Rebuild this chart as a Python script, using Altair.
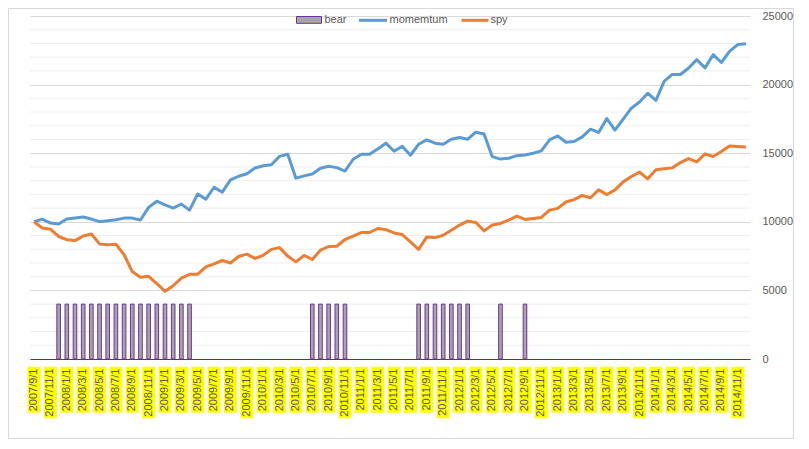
import altair as alt
import pandas as pd

# ---- categories (monthly, 2007/9/1 .. 2014/12/1) ----
months = []
_y, _m = 2007, 9
for _ in range(88):
    months.append(f"{_y}/{_m}/1")
    _m += 1
    if _m > 12:
        _m = 1
        _y += 1

tick_labels = months[::2]

momentum = [
    10000, 10190, 9910, 9840, 10200, 10270, 10350, 10200, 10010, 10080,
    10150, 10270, 10270, 10130, 11050, 11500, 11240, 11000, 11290, 10850,
    12030, 11650, 12520, 12160, 13050, 13320, 13500, 13920, 14080, 14160,
    14770, 14920, 13180, 13350, 13490, 13900, 14050, 13950, 13700, 14560,
    14920, 14920, 15310, 15730, 15140, 15500, 14850, 15650, 15970, 15730,
    15650, 16020, 16150, 16020, 16530, 16400, 14750, 14570, 14630, 14820,
    14870, 15000, 15170, 15970, 16260, 15800, 15850, 16190, 16750, 16510,
    17520, 16680, 17480, 18280, 18730, 19370, 18850, 20240, 20740, 20740,
    21210, 21820, 21220, 22180, 21610, 22420, 22920, 22980,
]

spy = [
    10000, 9550, 9460, 8930, 8700, 8630, 8970, 9110, 8390, 8320,
    8370, 7600, 6370, 5960, 6030, 5500, 4930, 5340, 5900, 6170,
    6180, 6710, 6940, 7180, 7000, 7470, 7640, 7330, 7560, 7990,
    8120, 7500, 7080, 7550, 7250, 7930, 8200, 8220, 8710, 8950,
    9220, 9220, 9510, 9430, 9190, 9070, 8540, 7990, 8900, 8850,
    9020, 9390, 9760, 10050, 9950, 9340, 9760, 9880, 10120, 10410,
    10170, 10240, 10320, 10850, 10980, 11440, 11620, 11920, 11750, 12330,
    11990, 12330, 12910, 13300, 13620, 13130, 13790, 13860, 13930, 14320,
    14610, 14370, 14950, 14760, 15120, 15530, 15490, 15460,
]

bear_months = [
    "2007/12/1", "2008/1/1", "2008/2/1", "2008/3/1", "2008/4/1", "2008/5/1",
    "2008/6/1", "2008/7/1", "2008/8/1", "2008/9/1", "2008/10/1", "2008/11/1",
    "2008/12/1", "2009/1/1", "2009/2/1", "2009/3/1", "2009/4/1",
    "2010/7/1", "2010/8/1", "2010/9/1", "2010/10/1", "2010/11/1",
    "2011/8/1", "2011/9/1", "2011/10/1", "2011/11/1", "2011/12/1", "2012/1/1", "2012/2/1",
    "2012/6/1", "2012/9/1",
]
bear_value = 4000

y_major = [0, 5000, 10000, 15000, 20000, 25000]
y_minor = [v for v in range(1000, 25000, 1000) if v % 5000 != 0]

series_names = ["bear", "momemtum", "spy"]

# ---- styles ----
FONT = "Liberation Sans"
TXT = "#595959"
BLUE = "#5B9BD5"
ORANGE = "#ED7D31"
BAR_FILL = "#A6A6A6"
BAR_STROKE = "#7030A0"

lines_df = pd.DataFrame({
    "month": months * 2,
    "value": momentum + spy,
    "series": ["momemtum"] * len(months) + ["spy"] * len(months),
    "order": list(range(len(months))) * 2,
})
bear_df = pd.DataFrame({"month": bear_months, "bear": [bear_value] * len(bear_months)})
labels_df = pd.DataFrame({"month": tick_labels})
minor_df = pd.DataFrame({"v": y_minor})
frame_df = pd.DataFrame({"k": [0]})

X = alt.X(
    "month:O",
    sort=months,
    scale=alt.Scale(domain=months, paddingInner=0, paddingOuter=0),
    axis=alt.Axis(
        values=tick_labels, title=None, ticks=False, domainColor="#E00000", domainWidth=1.2,
        labelAngle=270, labelAlign="right", labelBaseline="middle", labelPadding=9,
        labelFont=FONT, labelFontSize=11, labelColor=TXT, zindex=1, grid=False,
        labelOverlap=False,
    ),
)
YSCALE = alt.Scale(domain=[0, 25000], nice=False, zero=True)
YAXIS = alt.Axis(
    orient="right", values=y_major, title=None, ticks=False, domain=False, format="d",
    grid=True, gridColor="#D9D9D9", gridWidth=1, labelPadding=12,
    labelFont=FONT, labelFontSize=11, labelColor=TXT,
)

frame = alt.Chart(frame_df).mark_rect(fillOpacity=0, stroke="#D9D9D9", strokeWidth=1).encode(
    x=alt.value(-21.5), x2=alt.value(763.5), y=alt.value(-7.5), y2=alt.value(422.5)
)

minor = alt.Chart(minor_df).mark_rule(color="#EEEEEE", strokeWidth=1).encode(
    y=alt.Y("v:Q", scale=YSCALE, axis=YAXIS)
)

box8 = alt.Chart(labels_df).transform_filter("length(datum.month) == 8").mark_bar(
    size=13, color="#FFFF00"
).encode(x=X, y=alt.value(350.7), y2=alt.value(396.7))
box9 = alt.Chart(labels_df).transform_filter("length(datum.month) == 9").mark_bar(
    size=13, color="#FFFF00"
).encode(x=X, y=alt.value(350.7), y2=alt.value(402.3))

bars = alt.Chart(bear_df).mark_bar(
    size=3.6, fill=BAR_FILL, stroke=BAR_STROKE, strokeWidth=1
).encode(x=X, y=alt.Y("bear:Q", scale=YSCALE, axis=YAXIS))

lines = alt.Chart(lines_df).mark_line(strokeWidth=3, strokeJoin="round").encode(
    x=X,
    y=alt.Y("value:Q", scale=YSCALE, axis=YAXIS),
    color=alt.Color("series:N", scale=alt.Scale(domain=["momemtum", "spy"], range=[BLUE, ORANGE]), legend=None),
    order="order:Q",
)

# ---- legend (drawn as marks) ----
leg_df = pd.DataFrame({"label": series_names})
leg_box = alt.Chart(leg_df).transform_filter("datum.label == 'bear'").mark_rect(
    fill=BAR_FILL, stroke=BAR_STROKE, strokeWidth=1
).encode(x=alt.value(266.5), x2=alt.value(291.5), y=alt.value(0.5), y2=alt.value(7.3))
leg_mom = alt.Chart(leg_df).transform_filter("datum.label == 'momemtum'").mark_rule(
    color=BLUE, strokeWidth=3
).encode(x=alt.value(329), x2=alt.value(357), y=alt.value(4.3))
leg_spy = alt.Chart(leg_df).transform_filter("datum.label == 'spy'").mark_rule(
    color=ORANGE, strokeWidth=3
).encode(x=alt.value(431.5), x2=alt.value(458.5), y=alt.value(4.3))

def leg_text(name, xpos):
    return alt.Chart(leg_df).transform_filter(f"datum.label == '{name}'").mark_text(
        font=FONT, fontSize=11, color=TXT, align="left", baseline="middle"
    ).encode(text="label:N", x=alt.value(xpos), y=alt.value(3.8))

chart = alt.layer(
    frame, minor, box8, box9, bars, lines,
    leg_box, leg_mom, leg_spy,
    leg_text("bear", 294.5), leg_text("momemtum", 359.5), leg_text("spy", 460.5),
).properties(
    width=720, height=343,
    autosize=alt.AutoSizeParams(type="none"),
    padding={"left": 22, "top": 8, "right": 51, "bottom": 82},
    background="white",
).configure_view(stroke=None)

chart.save("out.html", embed_options={"renderer": "svg", "actions": False})
